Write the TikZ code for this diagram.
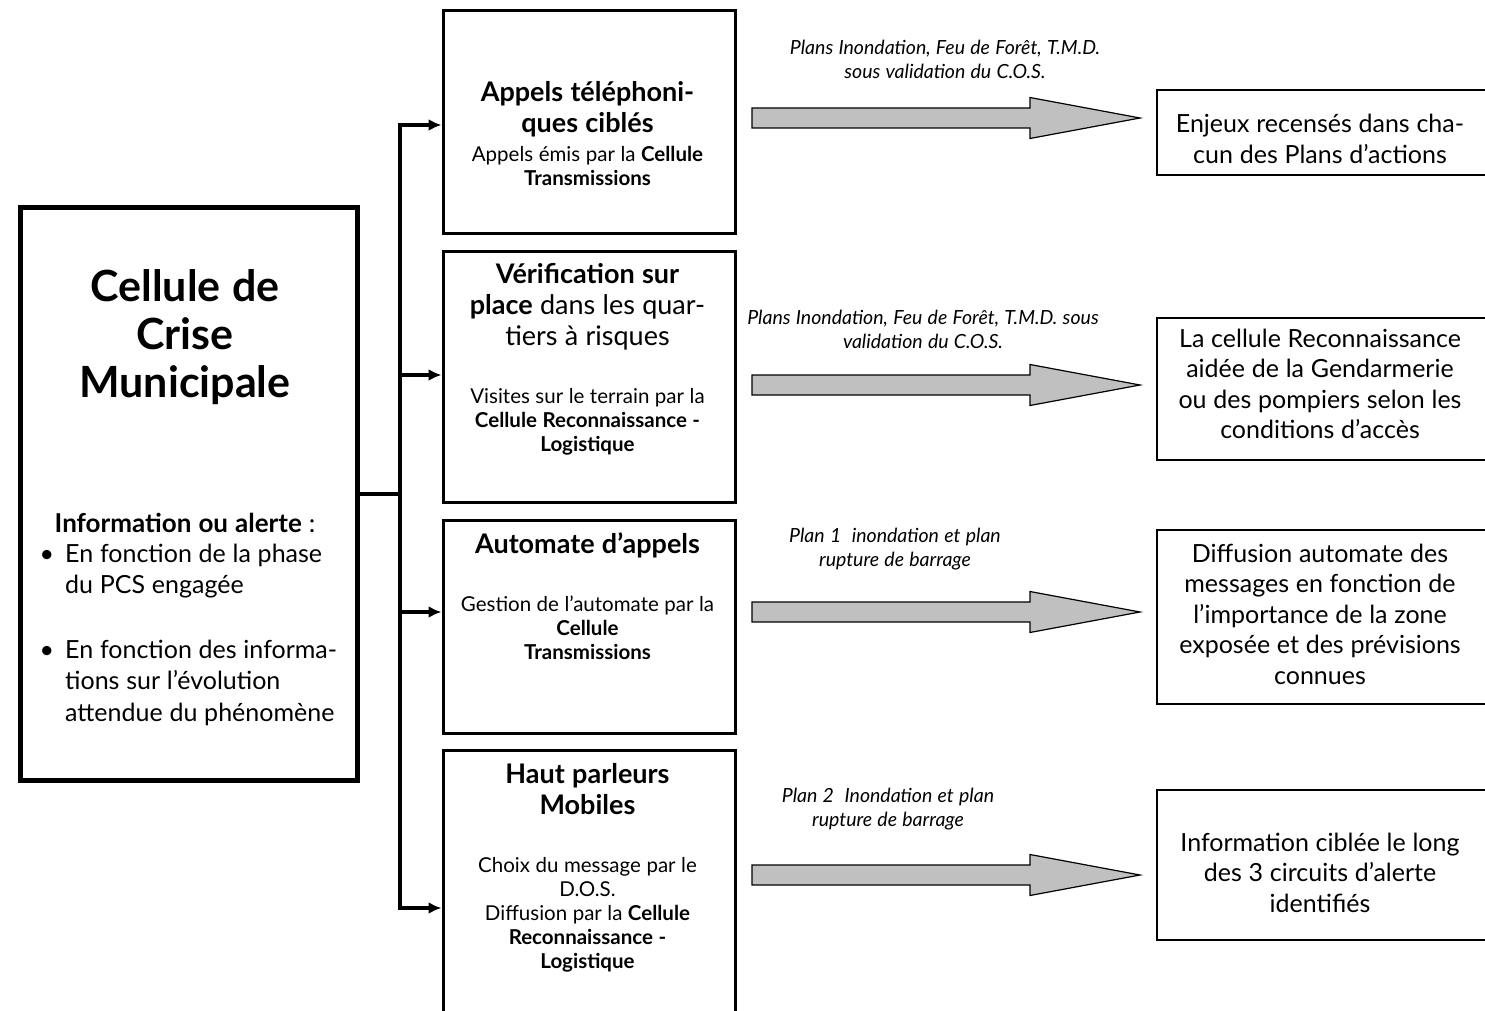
\documentclass[tikz,border=0pt]{standalone}
\usepackage{fontspec}
\setmainfont{Lato}
\usetikzlibrary{arrows.meta,positioning}

\definecolor{arrowgray}{RGB}{192,192,192}

\newcommand{\widespace}{\spaceskip=0.27em\relax}
\newcommand{\titlefont}{\fontsize{43}{48}\selectfont\bfseries\widespace}
\newcommand{\infofont}{\fontsize{26}{31}\selectfont\widespace}
\newcommand{\headfont}{\fontsize{27}{31}\selectfont\widespace}
\newcommand{\bodyfont}{\fontsize{20.5}{24}\selectfont\widespace}
\newcommand{\resfont}{\fontsize{25}{30.5}\selectfont\widespace}
\newcommand{\planfont}{\fontsize{19.5}{24}\selectfont\itshape\widespace}

\tikzset{
  crisebox/.style={draw, line width=5pt, minimum width=337pt, minimum height=572pt, anchor=north west, inner sep=0pt},
  actionbox/.style={draw, line width=3pt, minimum width=292pt, anchor=north west, inner sep=0pt},
  resultbox/.style={draw, line width=2pt, minimum width=400pt, anchor=north west, inner sep=0pt},
  boxtext/.style={anchor=base, align=center, text width=320pt, inner sep=0pt},
  link/.style={line width=4pt, -{Latex[length=13pt,width=12pt]}},
  bigarrow/.style={draw, line width=1.2pt, fill=arrowgray},
  planlabel/.style={anchor=base, align=center, font=\planfont, inner sep=0pt}
}

\begin{document}
\begin{tikzpicture}[x=1pt, y=-1pt]
\useasboundingbox (0,0) rectangle (1485,1011);
\clip (0,0) rectangle (1485,1011);

% Cellule de crise
\node[crisebox] (crise) at (17.5,205.5) {};
\node[boxtext, text width=330pt] (crisetitle) at (185,301) {\titlefont Cellule de\\Crise\\Municipale\par};
\node[boxtext, text width=330pt] (criseinfo) at (185,532) {\infofont\textbf{Information ou alerte} :\par};
\node[anchor=base west, align=left, text width=300pt, inner sep=0pt] (crisebullets) at (65,562)
  {\fontsize{25}{31.5}\selectfont\widespace
   \leavevmode\llap{\textbullet\hspace{11pt}}En fonction de la phase\\du PCS engagée\par\vspace{33pt}
   \leavevmode\llap{\textbullet\hspace{11pt}}En fonction des informa-\\tions sur l’évolution\\attendue du phénomène\par};

% Actions
\node[actionbox, minimum height=222pt] (appels) at (441.5,9.5) {};
\node[actionbox, minimum height=251pt] (verif) at (441.5,249.5) {};
\node[actionbox, minimum height=213pt] (automate) at (441.5,518.5) {};
\node[actionbox, minimum height=300pt] (hautparleurs) at (441.5,748.5) {};

\node[boxtext] (appelstext) at (587.5,102)
  {\headfont\textbf{Appels téléphoni-}\\\textbf{ques ciblés}\par\vspace{5pt}
   \bodyfont Appels émis par la \textbf{Cellule}\\\textbf{Transmissions}\par};
\node[boxtext] (veriftext) at (587.5,283)
  {\headfont\textbf{Vérification sur}\\\textbf{place} dans les quar-\\tiers à risques\par\vspace{34pt}
   \bodyfont Visites sur le terrain par la\\\textbf{Cellule Reconnaissance -}\\\textbf{Logistique}\par};
\node[boxtext] (automatetext) at (587.5,553)
  {\headfont\textbf{Automate d’appels}\par\vspace{34pt}
   \bodyfont Gestion de l’automate par la\\\textbf{Cellule}\\\textbf{Transmissions}\par};
\node[boxtext] (hautparleurstext) at (587.5,783)
  {\headfont\textbf{Haut parleurs}\\\textbf{Mobiles}\par\vspace{34pt}
   \bodyfont Choix du message par le\\D.O.S.\\Diffusion par la \textbf{Cellule}\\\textbf{Reconnaissance -}\\\textbf{Logistique}\par};

% Results
\node[resultbox, minimum height=85pt] (enjeux) at (1156,89) {};
\node[resultbox, minimum height=142pt] (reco) at (1156,317) {};
\node[resultbox, minimum height=174pt] (diffusion) at (1156,529) {};
\node[resultbox, minimum height=150pt] (circuits) at (1156,789) {};

\node[boxtext] (enjeuxtext) at (1320,133)
  {\resfont Enjeux recensés dans cha-\\cun des Plans d’actions\par};
\node[boxtext] (recotext) at (1320,347)
  {\resfont La cellule Reconnaissance\\aidée de la Gendarmerie\\ou des pompiers selon les\\conditions d’accès\par};
\node[boxtext] (diffusiontext) at (1320,562)
  {\resfont Diffusion automate des\\messages en fonction de\\l’importance de la zone\\exposée et des prévisions\\connues\par};
\node[boxtext] (circuitstext) at (1320,851)
  {\resfont Information ciblée le long\\des 3 circuits d’alerte\\identifiés\par};

% Connectors
\coordinate (j1) at (400,125);
\coordinate (j2) at (400,375);
\coordinate (j3) at (400,612);
\coordinate (j4) at (400,908);
\draw[line width=4pt] (crise.east) -- (crise.east -| j1);
\draw[link] (j4) -- (j1) -- (j1 -| appels.west);
\draw[link] (j2) -- (j2 -| verif.west);
\draw[link] (j3) -- (j3 -| automate.west);
\draw[link] (j1) -- (j4) -- (j4 -| hautparleurs.west);

% Gray arrows
\foreach \yy in {118,385,612,875}
  \draw[bigarrow] (752,\yy-10) -- (1030,\yy-10) -- (1030,\yy-20.5) -- (1140,\yy)
    -- (1030,\yy+20.5) -- (1030,\yy+10) -- (752,\yy+10) -- cycle;

\node[planlabel] (plan1) at (945,79) {Plans Inondation, Feu de Forêt, T.M.D.\\sous validation du C.O.S.};
\node[planlabel] (plan2) at (923,348) {Plans Inondation, Feu de Forêt, T.M.D. sous\\validation du C.O.S.};
\node[planlabel] (plan3) at (895,566) {Plan 1\ \ inondation et plan\\rupture de barrage};
\node[planlabel] (plan4) at (888,826) {Plan 2\ \ Inondation et plan\\rupture de barrage};
\end{tikzpicture}
\end{document}
